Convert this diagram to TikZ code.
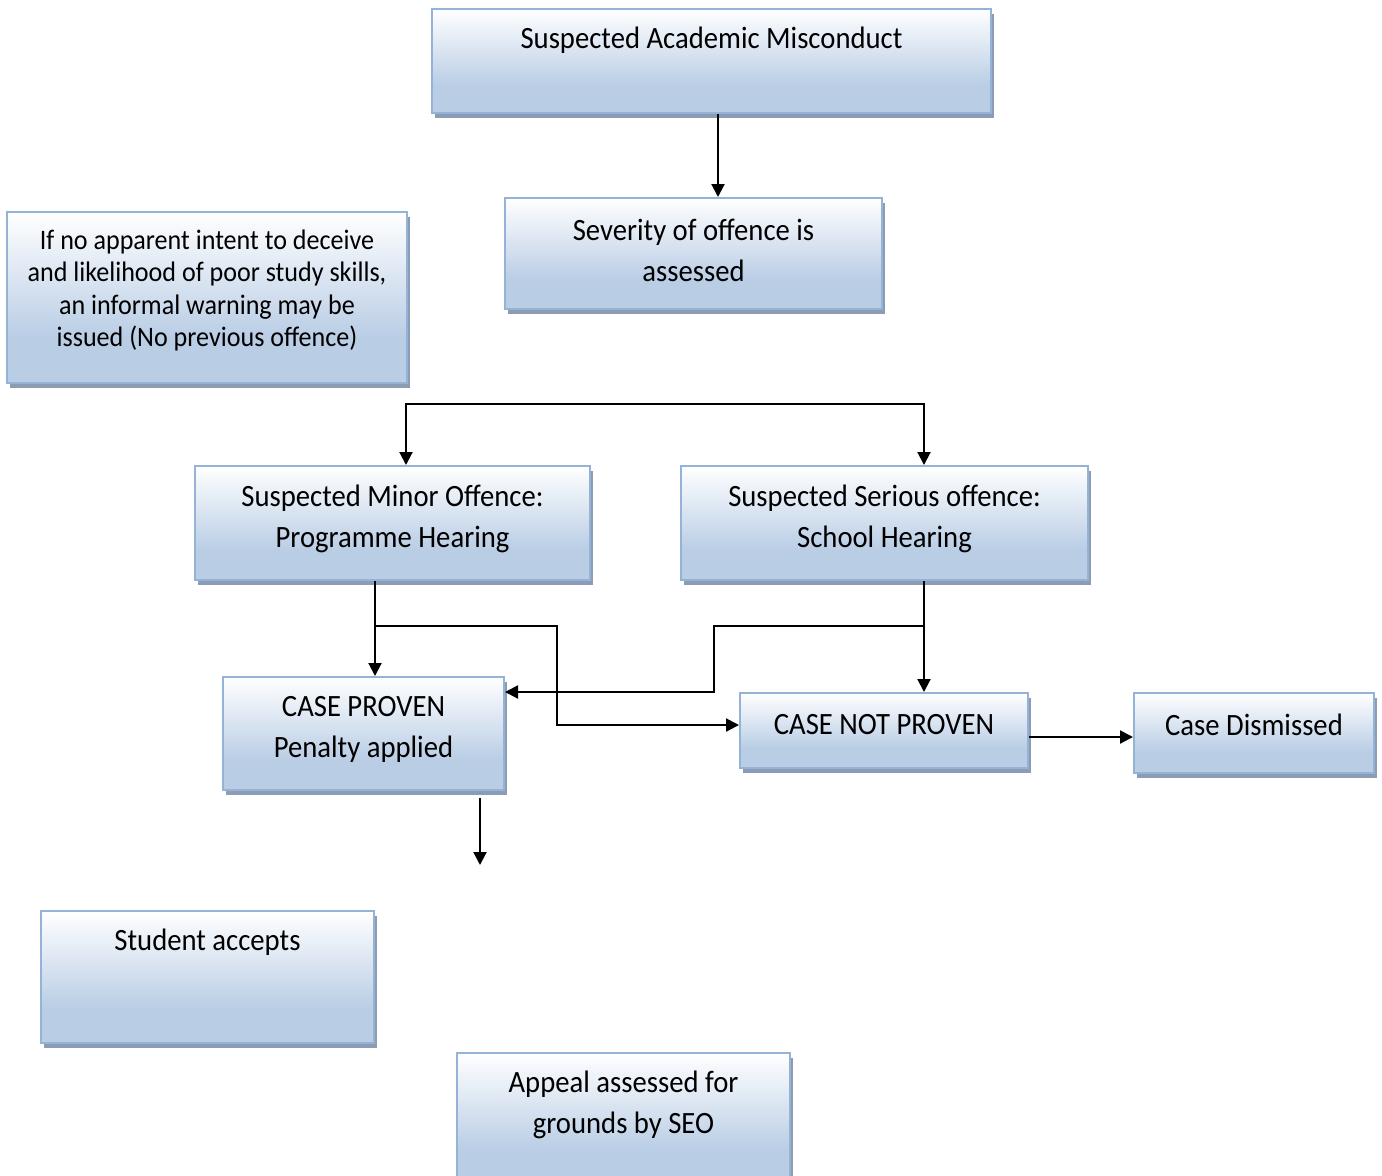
\documentclass[tikz,border=0pt]{standalone}
\usepackage{fontspec}
\setmainfont[FakeStretch=0.925]{Carlito}
\usetikzlibrary{shadows,arrows.meta,calc}
\definecolor{boxbot}{RGB}{185,205,229}
\definecolor{boxline}{RGB}{149,179,215}
\definecolor{shadowc}{RGB}{140,156,180}
\pgfdeclareverticalshading{boxshade}{100bp}{color(0bp)=(boxbot); color(25bp)=(boxbot); color(38bp)=(boxbot); color(75bp)=(white); color(100bp)=(white)}
\tikzset{
  box/.style={draw=boxline, line width=1pt, shading=boxshade, inner sep=0pt,
    drop shadow={shadow xshift=1.6pt, shadow yshift=-2.5pt, fill=shadowc, opacity=1}},
  txt/.style={align=center, inner sep=0pt, font=\fontsize{15.5}{20.5}\selectfont},
  smalltxt/.style={align=center, inner sep=0pt, font=\fontsize{14.1}{16.25}\selectfont},
  arr/.style={line width=1pt, -{Triangle[length=6.5pt,width=6.5pt]}},
  darr/.style={line width=1pt, {Triangle[length=6.5pt,width=6.5pt]}-{Triangle[length=6.5pt,width=6.5pt]}}
}
\begin{document}
\begin{tikzpicture}[x=0.5pt,y=-0.5pt]
\useasboundingbox (0,0) rectangle (1382,1175);
% boxes
\node[box, minimum width=279.5pt, minimum height=52pt] (m1) at (711.5,61) {};
\node[txt] (m1t) at (711.5,40) {Suspected Academic Misconduct};
\node[box, minimum width=188.5pt, minimum height=55.5pt] (m2) at (693.5,253.5) {};
\node[txt] (m2t) at (693.5,250.5) {Severity of offence is\\assessed};
\node[box, minimum width=200pt, minimum height=85.5pt] (m3) at (207,297.5) {};
\node[smalltxt] (m3t) at (207,290.5) {If no apparent intent to deceive\\and likelihood of poor study skills,\\an informal warning may be\\issued (No previous offence)};
\node[box, minimum width=197.5pt, minimum height=57pt] (minor) at (392.5,523) {};
\node[txt] (minort) at (392.5,518.5) {Suspected Minor Offence:\\Programme Hearing};
\node[box, minimum width=203.5pt, minimum height=57pt] (serious) at (884.5,523) {};
\node[txt] (seriost) at (884.5,518.5) {Suspected Serious offence:\\School Hearing};
\node[box, minimum width=140.5pt, minimum height=56.5pt] (proven) at (363.5,733.5) {};
\node[txt] (provent) at (363.5,729) {CASE PROVEN\\Penalty applied};
\node[box, minimum width=144pt, minimum height=37.5pt] (notproven) at (884,730.5) {};
\node[txt] (notprovent) at (884,724.5) {CASE NOT PROVEN};
\node[box, minimum width=120pt, minimum height=40pt] (dismissed) at (1254,733) {};
\node[txt] (dismissedt) at (1254,724.5) {Case Dismissed};
\node[box, minimum width=166.5pt, minimum height=66pt] (student) at (207.5,977) {};
\node[txt] (studentt) at (207.5,942) {Student accepts};
\node[box, minimum width=166.5pt, minimum height=66pt] (appeal) at (623.5,1119) {};
\node[txt] (appealt) at (623.5,1104.5) {Appeal assessed for\\grounds by SEO};
% coordinates
\coordinate (x718) at (718,0);
\coordinate (sL) at (406,404);
\coordinate (sR) at (924,404);
\coordinate (j1) at (375,626);
\coordinate (b1) at (557,725);
\coordinate (j2) at (924,626);
\coordinate (b2) at (714,692);
\coordinate (y737) at (0,737);
\coordinate (f1) at (480,798);
\coordinate (f2) at (480,865);
% connectors
\draw[arr] (m1.south -| x718) -- (m2.north -| x718);
\draw[darr] (minor.north -| sL) |- (sR) -- (serious.north -| sR);
\draw[arr] (minor.south -| j1) -- (proven.north -| j1);
\draw[arr] (j1) -| (b1) -- (notproven.west |- b1);
\draw[arr] (serious.south -| j2) -- (notproven.north -| j2);
\draw[arr] (j2) -| (b2) -- (proven.east |- b2);
\draw[arr] (notproven.east |- y737) -- (dismissed.west |- y737);
\draw[arr] (f1) -- (f2);
\end{tikzpicture}
\end{document}
